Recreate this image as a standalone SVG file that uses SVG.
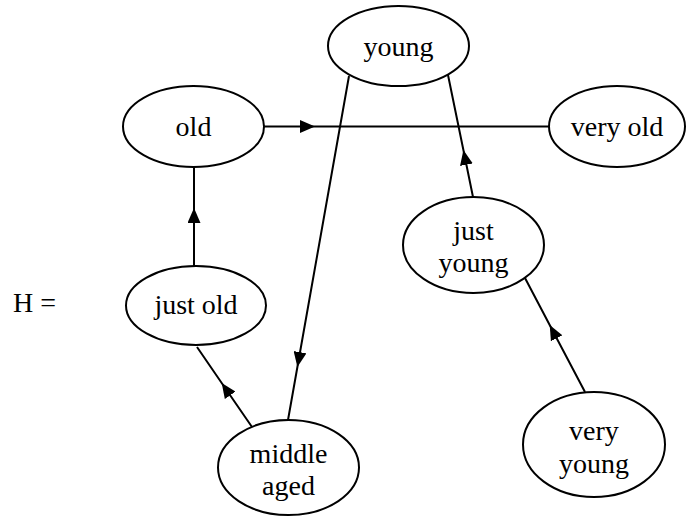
<svg xmlns="http://www.w3.org/2000/svg" width="686" height="517" viewBox="0 0 686 517">
<style>
.node ellipse{fill:#fff;stroke:#000;stroke-width:2}
.node text, .lbl{font-family:"Liberation Serif","Times New Roman",serif;font-size:28px;fill:#000;text-anchor:middle}
.edge{fill:none;stroke:#000;stroke-width:2;marker-mid:url(#ah)}
</style>
<defs>
<marker id="ah" viewBox="0 0 15 13" refX="15" refY="6.5" markerWidth="15" markerHeight="13" markerUnits="userSpaceOnUse" orient="auto">
<path d="M0,0 L15,6.5 L0,13 z" fill="#000"/>
</marker>
</defs>
<rect width="686" height="517" fill="#fff"/>
<g id="connectors">
<path class="edge" d="M264,126.5 L315,126.5 L549,126.5"/>
<path class="edge" d="M194,266 L194,208 L194,167"/>
<path class="edge" d="M252,427 L221.7,383 L197,347"/>
<path class="edge" d="M349,76 L297.4,367 L288,420"/>
<path class="edge" d="M473,197 L463.4,150 L448,75"/>
<path class="edge" d="M585,392 L549.7,325 L525,278"/>
</g>
<g id="young" class="node"><ellipse cx="398.5" cy="46" rx="70.5" ry="40"/><text x="398.5" y="56">young</text></g>
<g id="old" class="node"><ellipse cx="193.5" cy="126.5" rx="70.5" ry="40.5"/><text x="193.5" y="136">old</text></g>
<g id="very_old" class="node"><ellipse cx="617" cy="126.5" rx="68" ry="40.5"/><text x="617" y="136">very old</text></g>
<g id="just_old" class="node"><ellipse cx="196" cy="305.5" rx="70" ry="39.5"/><text x="196" y="314">just old</text></g>
<g id="just_young" class="node"><ellipse cx="473.5" cy="245" rx="70.5" ry="48"/><text x="473.5" y="240">just</text><text x="473.5" y="272">young</text></g>
<g id="middle_aged" class="node"><ellipse cx="288.5" cy="467.5" rx="70.5" ry="47.5"/><text x="288.5" y="463">middle</text><text x="288.5" y="495">aged</text></g>
<g id="very_young" class="node"><ellipse cx="594" cy="444.5" rx="71" ry="52.5"/><text x="594" y="440">very</text><text x="594" y="473">young</text></g>
<text class="lbl" x="13" y="312" style="text-anchor:start">H =</text>
</svg>
